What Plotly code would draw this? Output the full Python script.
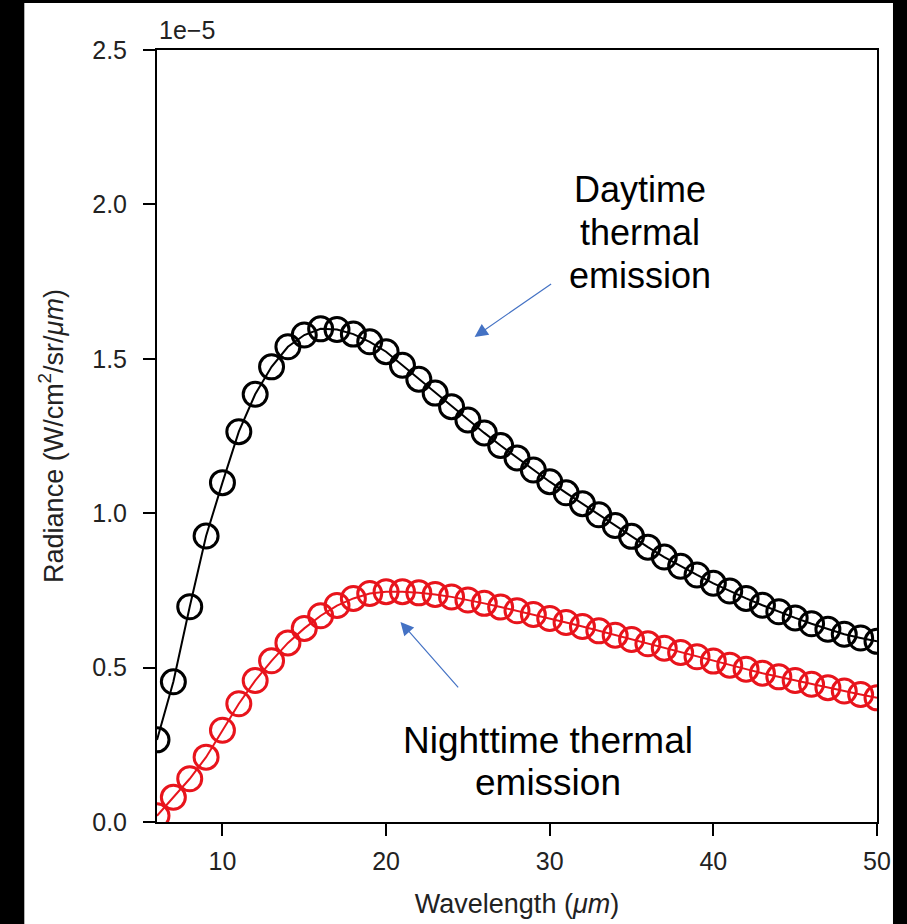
import plotly.graph_objects as go

# Wavelength grid (micrometres) and radiance in units of 1e-5 W/cm^2/sr/um
wavelength = list(range(6, 51))

day_radiance = [
    0.266, 0.454, 0.697, 0.926, 1.099, 1.264, 1.385, 1.474, 1.539, 1.577,
    1.597, 1.595, 1.580, 1.555, 1.523, 1.479, 1.434, 1.389, 1.345, 1.302,
    1.260, 1.219, 1.179, 1.140, 1.102, 1.066, 1.031, 0.995, 0.960, 0.925,
    0.890, 0.858, 0.828, 0.800, 0.773, 0.748, 0.724, 0.702, 0.681, 0.661,
    0.642, 0.624, 0.608, 0.596, 0.585,
]

night_radiance = [
    0.020, 0.080, 0.140, 0.210, 0.297, 0.383, 0.458, 0.522, 0.580, 0.627,
    0.668, 0.701, 0.724, 0.740, 0.746, 0.746, 0.742, 0.737, 0.729, 0.719,
    0.708, 0.696, 0.684, 0.672, 0.659, 0.646, 0.633, 0.619, 0.605, 0.591,
    0.577, 0.563, 0.549, 0.535, 0.521, 0.508, 0.495, 0.482, 0.470, 0.458,
    0.446, 0.435, 0.424, 0.413, 0.402,
]

x_ticks = [10, 20, 30, 40, 50]
y_ticks = [0.0, 0.5, 1.0, 1.5, 2.0, 2.5]

FONT = "Liberation Sans, Arial, sans-serif"
BLACK = "#000000"
RED = "#e8141c"
ARROW = "#4472c4"
TEXT = "#222222"

fig = go.Figure()

fig.add_trace(go.Scatter(
    x=wavelength, y=day_radiance, mode="lines+markers",
    line=dict(color=BLACK, width=2),
    marker=dict(symbol="circle-open", size=24, color=BLACK,
                line=dict(color=BLACK, width=3)),
    showlegend=False,
))

fig.add_trace(go.Scatter(
    x=wavelength, y=night_radiance, mode="lines+markers",
    line=dict(color=RED, width=2),
    marker=dict(symbol="circle-open", size=24, color=RED,
                line=dict(color=RED, width=3)),
    showlegend=False,
))

axis_common = dict(
    showline=True, linecolor=BLACK, linewidth=2, mirror=True,
    ticks="outside", ticklen=12, tickwidth=2, tickcolor=BLACK,
    showgrid=False, zeroline=False, automargin=False,
    tickfont=dict(family=FONT, size=25, color=TEXT),
)

fig.update_xaxes(
    range=[6, 50], tickvals=x_ticks, ticklabelstandoff=4,
    title=dict(text="Wavelength (<i>μm</i>)",
               font=dict(family=FONT, size=27, color=TEXT), standoff=20),
    **axis_common,
)
fig.update_yaxes(
    range=[0, 2.5], tickvals=y_ticks, tickformat=".1f", ticklabelstandoff=11,
    title=dict(text="Radiance (W/cm<sup>2</sup>/sr/<i>μm</i>)",
               font=dict(family=FONT, size=27, color=TEXT), standoff=21),
    **axis_common,
)

annotations = [
    # axis multiplier
    dict(text="1e−5", xref="paper", yref="paper", x=0.0, y=1.0,
         xanchor="left", yanchor="bottom", yshift=4, showarrow=False,
         font=dict(family=FONT, size=25, color=TEXT)),
    # labels
    dict(text="Daytime", x=35.5, y=2.047, showarrow=False,
         font=dict(family=FONT, size=36, color=BLACK)),
    dict(text="thermal", x=35.5, y=1.908, showarrow=False,
         font=dict(family=FONT, size=36, color=BLACK)),
    dict(text="emission", x=35.5, y=1.771, showarrow=False,
         font=dict(family=FONT, size=36, color=BLACK)),
    dict(text="Nighttime thermal", x=29.88, y=0.2655, showarrow=False,
         font=dict(family=FONT, size=37, color=BLACK)),
    dict(text="emission", x=29.88, y=0.1295, showarrow=False,
         font=dict(family=FONT, size=37, color=BLACK)),
    # pointer arrows
    dict(text="", x=25.41, y=1.571, ax=78, ay=-54, showarrow=True,
         arrowhead=2, arrowsize=2.2, arrowwidth=1.2, arrowcolor=ARROW),
    dict(text="", x=20.88, y=0.648, ax=59, ay=67, showarrow=True,
         arrowhead=2, arrowsize=2.2, arrowwidth=1.2, arrowcolor=ARROW),
]

# dark frame around the page edges
shapes = [
    dict(type="rect", xref="paper", yref="paper", x0=-0.25, x1=-0.1843,
         y0=-0.2, y1=1.1, fillcolor="black", line=dict(width=0), layer="above"),
    dict(type="rect", xref="paper", yref="paper", x0=1.0222, x1=1.06,
         y0=-0.2, y1=1.1, fillcolor="black", line=dict(width=0), layer="above"),
    dict(type="rect", xref="paper", yref="paper", x0=-0.25, x1=1.06,
         y0=1.0609, y1=1.1, fillcolor="black", line=dict(width=0), layer="above"),
]

fig.update_layout(
    width=907, height=924,
    margin=dict(l=157, r=30, t=50, b=102),
    paper_bgcolor="white", plot_bgcolor="white",
    annotations=annotations, shapes=shapes,
    font=dict(family=FONT),
)

fig.write_html("out.html")
